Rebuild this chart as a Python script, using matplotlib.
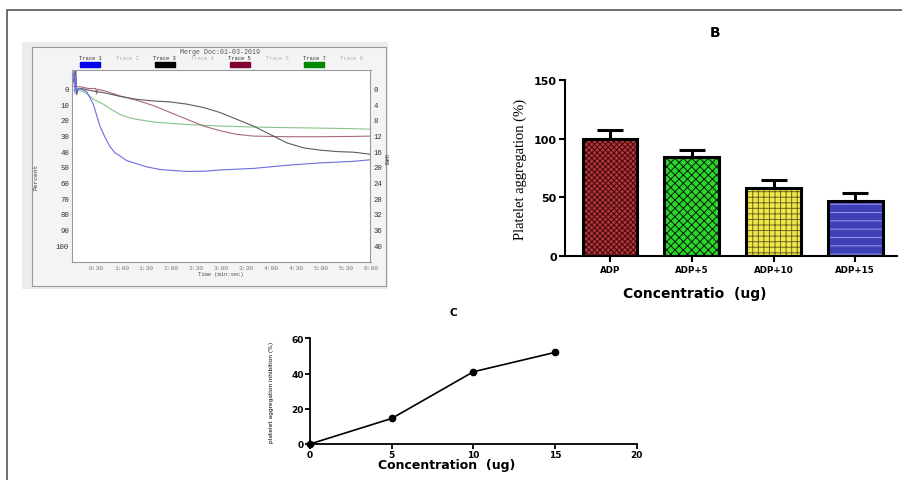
import matplotlib
matplotlib.use('Agg')
import matplotlib.pyplot as plt
from matplotlib.patches import Rectangle
from matplotlib.lines import Line2D

# ---- panel A: aggregometer traces (time in s, percent) ----
t_trace1 = [0, 3, 4, 5, 6, 8, 12, 18, 26, 34, 40, 46, 52, 58, 66, 78, 90, 106, 120, 140, 160, 180, 220, 260, 300, 340, 360]
v_trace1 = [0, -12, 3, -8, 2, 0, 0.5, 2, 10, 24, 31, 37, 41, 43, 46, 48, 50, 51.7, 52.3, 53, 52.8, 52, 51, 49, 47.5, 46.5, 45.5]

t_trace3 = [0, 5, 6, 8, 12, 20, 30, 38, 58, 78, 99, 119, 139, 159, 179, 199, 219, 239, 259, 280, 300, 320, 340, 360]
v_trace3 = [0, -12, 4, 0, 0, 1, 2, 2.6, 5, 6.9, 8, 8.6, 10, 12.2, 15.4, 19.7, 24, 29.3, 34.7, 38, 39.4, 40.3, 40.7, 42]

t_trace5 = [0, 12, 20, 29, 30, 31, 40, 58, 78, 99, 119, 139, 159, 179, 199, 219, 259, 300, 340, 360]
v_trace5 = [-1.5, -1, 0, 0, 3.5, 0.5, 1.5, 4.7, 7.5, 11, 15.4, 19.7, 24, 27, 29.3, 30.4, 30.8, 30.8, 30.6, 30.4]

t_trace7 = [0, 8, 14, 20, 26, 38, 48, 58, 68, 78, 99, 120, 139, 179, 219, 259, 300, 340, 360]
v_trace7 = [1, 1, 2, 4, 6.9, 10, 13.5, 16.5, 18.5, 19.7, 21.4, 22.3, 23, 24, 24.6, 25, 25.3, 25.7, 26]

trace_names = ['Trace 1', 'Trace 2', 'Trace 3', 'Trace 4', 'Trace 5', 'Trace 6', 'Trace 7', 'Trace 8']
swatch_colors = ['#0000ee', None, '#000000', None, '#800033', None, '#008800', None]

time_ticks = list(range(30, 361, 30))
time_labels = ['%d:%02d' % (s // 60, s % 60) for s in time_ticks]
percent_ticks = list(range(0, 101, 10))
ohm_ticks = list(range(0, 41, 4))

# ---- panel B: bar chart ----
bar_labels = ['ADP', 'ADP+5', 'ADP+10', 'ADP+15']
bar_means = [100, 84, 58, 47]
bar_err = [7.5, 6.5, 7, 6.5]

# ---- panel C: inhibition curve ----
conc = [0, 5, 10, 15]
inhibition = [0, 14.5, 41, 52]

W, H = 903, 481
fig = plt.figure(figsize=(W / 100, H / 100), dpi=100)
plt.rcParams['hatch.linewidth'] = 0.7


def px_axes(x0, y0, x1, y1, **kw):
    return fig.add_axes([x0 / W, 1 - y1 / H, (x1 - x0) / W, (y1 - y0) / H], **kw)


def px_text(x, y, s, **kw):
    return fig.text(x / W, 1 - y / H, s, **kw)


# figure border (top and left)
fig.add_artist(Line2D([7 / W, 7 / W, 1], [0, 1 - 11 / H, 1 - 11 / H], color='#555555', lw=1.2))

# ---------------- panel A ----------------
bg = px_axes(21.7, 43.3, 388, 290)
bg.set_facecolor('#ececec')
bg.set_xticks([]); bg.set_yticks([])
for s in bg.spines.values():
    s.set_visible(False)

frame = px_axes(31.7, 48.3, 386, 286.7)
frame.set_facecolor('#f4f4f4')
frame.set_xticks([]); frame.set_yticks([])
for s in frame.spines.values():
    s.set_color('#999999'); s.set_linewidth(0.8)

axA = px_axes(71.7, 70.7, 370.5, 263.3)
axA.set_facecolor('white')
axA.plot(t_trace7, v_trace7, color='#86c486', lw=0.8)
axA.plot(t_trace5, v_trace5, color='#a86a78', lw=0.8)
axA.plot(t_trace3, v_trace3, color='#5c5c5c', lw=0.8)
axA.plot(t_trace1, v_trace1, color='#6c6cde', lw=0.8)
axA.set_xlim(0, 360)
axA.set_ylim(111, -12)
axA.set_xticks(time_ticks)
axA.set_xticklabels(time_labels, fontsize=4.5, family='Liberation Mono', color='#777777')
axA.set_yticks(percent_ticks)
axA.set_yticklabels([str(p) for p in percent_ticks], fontsize=5.3, family='Liberation Mono', color='#333333')
axA.tick_params(length=0, pad=2)
for s in axA.spines.values():
    s.set_color('#999999'); s.set_linewidth(0.8)
axA.set_xlabel('Time (min:sec)', fontsize=4, family='Liberation Mono', color='#555555', labelpad=1)
axA.set_ylabel('Percent', fontsize=4.5, family='Liberation Mono', color='#333333')
axA.yaxis.set_label_coords(-0.11, 0.45)

axR = axA.twinx()
axR.set_ylim(111 * 0.4, -12 * 0.4)
axR.set_yticks(ohm_ticks)
axR.set_yticklabels([str(o) for o in ohm_ticks], fontsize=5.3, family='Liberation Mono', color='#333333')
axR.tick_params(length=0, pad=2)
for s in axR.spines.values():
    s.set_visible(False)
px_text(385.5, 160, 'OHMS', rotation=270, fontsize=3.5, family='Liberation Mono', color='#333333',
        ha='center', va='center')

px_text(220, 52.5, 'Merge Doc:01-03-2019', fontsize=4.8, family='Liberation Mono', color='#555555',
        ha='center', va='center')
for i, (name, col) in enumerate(zip(trace_names, swatch_colors)):
    cx = 90 + 37.4 * i
    px_text(cx, 59, name, fontsize=4, family='Liberation Mono',
            color='#333333' if col else '#b0b0b0', ha='center', va='center')
    if col:
        fig.add_artist(Rectangle(((cx - 10) / W, 1 - 67.5 / H), 20 / W, 4.5 / H,
                                 transform=fig.transFigure, color=col))

# ---------------- panel B ----------------
axB = px_axes(565, 80.7, 897, 257.3)
xpos = list(range(len(bar_labels)))
face = ['#b3363c', '#2ed42e', '#f0e84a', '#3e3eb6']
hatch_col = ['#400808', '#062006', '#6e6420', '#9a9af2']
hatches = ['xxxxxx', 'xxxx', '+++', '--']
for x, m, fc, hc, h in zip(xpos, bar_means, face, hatch_col, hatches):
    axB.bar(x, m, width=0.67, color=fc, edgecolor=hc, hatch=h, linewidth=0, zorder=2)
axB.bar(xpos, bar_means, width=0.67, fill=False, edgecolor='black', linewidth=2.2, zorder=3)
axB.errorbar(xpos, bar_means, yerr=[[0] * len(bar_err), bar_err], fmt='none', ecolor='black',
             elinewidth=2.2, capsize=9.5, capthick=2.2, zorder=4)
axB.set_xlim(-0.55, 3.51)
axB.set_ylim(0, 150)
axB.set_yticks([0, 50, 100, 150])
axB.set_xticks(xpos)
axB.set_xticklabels(bar_labels, fontsize=6.3, fontweight='bold')
for lab in axB.get_yticklabels():
    lab.set_fontsize(8); lab.set_fontweight('bold')
axB.tick_params(direction='out', length=4, width=1.5, pad=2)
for side in ['top', 'right']:
    axB.spines[side].set_visible(False)
for side in ['left', 'bottom']:
    axB.spines[side].set_linewidth(1.5)
axB.set_ylabel('Platelet aggregation (%)', family='Liberation Serif', fontsize=10.5)
axB.yaxis.set_label_coords(-0.113, 0.5)
axB.set_xlabel('Concentratio  (ug)', fontsize=10, fontweight='bold')
axB.xaxis.set_label_coords(0.39, -0.17)
px_text(715, 33, 'B', fontsize=10, fontweight='bold', ha='center', va='center')

# ---------------- panel C ----------------
axC = px_axes(310, 339.3, 636.7, 445)
axC.plot(conc, inhibition, '-o', color='black', lw=1.2, ms=4.5, clip_on=False, zorder=3)
axC.set_xlim(0, 20)
axC.set_ylim(0, 60)
axC.set_xticks([0, 5, 10, 15, 20])
axC.set_yticks([0, 20, 40, 60])
for lab in axC.get_xticklabels() + axC.get_yticklabels():
    lab.set_fontsize(6.5); lab.set_fontweight('bold')
axC.tick_params(direction='out', length=3.5, width=1.3, pad=1)
for side in ['top', 'right']:
    axC.spines[side].set_visible(False)
for side in ['left', 'bottom']:
    axC.spines[side].set_linewidth(1.3)
axC.set_ylabel('platelet aggregation inhibition (%)', fontsize=4.2)
axC.yaxis.set_label_coords(-0.11, 0.5)
axC.set_xlabel('Concentration  (ug)', fontsize=9, fontweight='bold')
axC.xaxis.set_label_coords(0.418, -0.13)
px_text(453, 313, 'C', fontsize=7.5, fontweight='bold', ha='center', va='center')

fig.savefig('out.png', dpi=100)
